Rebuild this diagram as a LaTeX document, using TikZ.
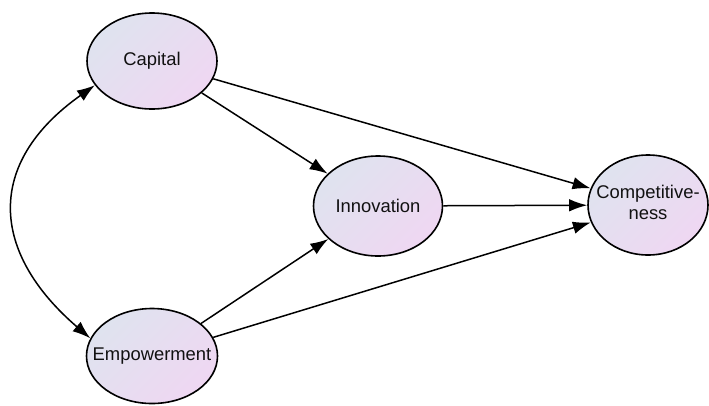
\documentclass[tikz,border=0pt]{standalone}
\usepackage{fontspec}
\setmainfont{Liberation Sans}
\usetikzlibrary{shapes.geometric,arrows.meta}
\definecolor{fillA}{HTML}{DFE3EF}
\definecolor{fillB}{HTML}{EFD7F2}
\definecolor{txt}{HTML}{111111}
\tikzset{
  var/.style={ellipse, draw=black, line width=1.6pt, inner sep=0pt,
    top color=fillA, bottom color=fillB, shading angle=45,
    text=txt, font=\fontsize{18.4}{22}\selectfont},
  path/.style={line width=1.5pt, -{Latex[length=18pt,width=12.5pt]}},
  cov/.style={line width=1.5pt, {Latex[length=18pt,width=12.5pt]}-{Latex[length=18pt,width=12.5pt]}}
}
\begin{document}
\begin{tikzpicture}[x=1pt,y=-1pt]
\useasboundingbox (0,0) rectangle (709,405);
\node[var, minimum width=130pt, minimum height=96pt] (cap) at (152,61) {\makebox[0pt]{Capital}};
\node[var, minimum width=131pt, minimum height=95pt] (emp) at (152,356) {\makebox[0pt]{Empowerment}};
\node[var, minimum width=129pt, minimum height=100pt] (inn) at (378,206) {\makebox[0pt]{Innovation}};
\node[var, minimum width=120pt, minimum height=100pt] (com) at (648,205) {\makebox[0pt]{\begin{tabular}{@{}c@{}}Competitive-\\[-1pt]ness\end{tabular}}};
\draw[path] (cap) -- (inn);
\draw[path] (cap) -- (com);
\draw[path] (inn) -- (com);
\draw[path] (emp) -- (inn);
\draw[path] (emp) -- (com);
\draw[cov] (cap.203) .. controls (-15,163) and (-10,252) .. (emp.164);
\end{tikzpicture}
\end{document}
